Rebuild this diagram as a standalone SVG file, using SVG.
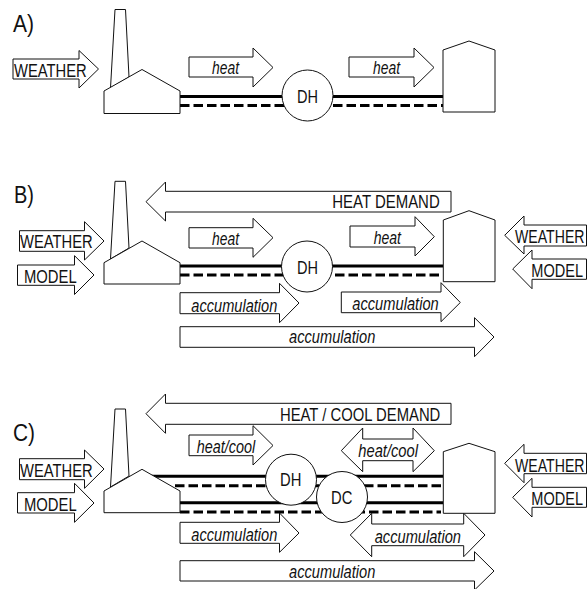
<svg xmlns="http://www.w3.org/2000/svg" width="587" height="589" viewBox="0 0 587 589">
<style>
.s{fill:#fff;stroke:#111;stroke-width:1;stroke-linejoin:miter}
.p{fill:none;stroke:#000;stroke-width:3}
.d{stroke-dasharray:9.5 4}
text{font-family:"Liberation Sans",Arial,sans-serif;font-size:18px;fill:#111}
.i{font-style:italic}
.l{font-size:23px}
</style>
<rect width="587" height="589" fill="#fff"/>
<g id="connectors">
<path class="p" d="M180 96.5H283M332 96.5H443"/>
<path class="p d" d="M180 105.5H284M333 105.5H443"/>
<path class="p" d="M180 266H283M332 266H443"/>
<path class="p d" d="M180 275H284M335 275H441"/>
<path class="p" d="M150 476.3H443"/>
<path class="p d" d="M175 485.7H443"/>
<path class="p" d="M180 502.7H443"/>
<path class="p d" d="M180 512H441"/>
</g>
<g id="panel-a">
<text class="l" x="13" y="31.7" textLength="21" lengthAdjust="spacingAndGlyphs">A)</text>
<g id="a-plant"><path class="s" d="M110.5 88L115 9.5H125.5L129 77Z"/><path class="s" d="M104 91L142 69.5L180 91V113.5H104Z"/></g>
<g id="a-tank"><path class="s" d="M443 50L469 41L495 50V112H443Z"/></g>
<g id="a-dh"><circle class="s" cx="307.5" cy="95.5" r="25.5"/><text x="297" y="102.5" textLength="21" lengthAdjust="spacingAndGlyphs">DH</text></g>
<g id="a-weather"><path class="s" d="M13 59H79V50.5L98.5 69L79 88V79H13Z"/><text x="14" y="76.7" textLength="72.7" lengthAdjust="spacingAndGlyphs">WEATHER</text></g>
<g id="a-heat1"><path class="s" d="M189 57H253V48L273 67.5L253 87V77H189Z"/><text class="i" x="212" y="74" textLength="27" lengthAdjust="spacingAndGlyphs">heat</text></g>
<g id="a-heat2"><path class="s" d="M349 57H414V48L434 67.5L414 87V77H349Z"/><text class="i" x="373" y="74" textLength="27" lengthAdjust="spacingAndGlyphs">heat</text></g>
</g>
<g id="panel-b">
<text class="l" x="14" y="202.7" textLength="20" lengthAdjust="spacingAndGlyphs">B)</text>
<g id="b-plant"><path class="s" d="M110.5 259L115 181.3H125.5L129 248Z"/><path class="s" d="M104 262.7L142 241L180 262.7V284H104Z"/></g>
<g id="b-tank"><path class="s" d="M443.3 220L469 210.7L495 220V281.7H443.3Z"/></g>
<g id="b-dh"><circle class="s" cx="307" cy="266.5" r="25.5"/><text x="297" y="274" textLength="21" lengthAdjust="spacingAndGlyphs">DH</text></g>
<g id="b-demand"><path class="s" d="M451 191.3H165.5V182L146 201.7L165.5 221V212H451Z"/><text x="332.3" y="207.7" textLength="107.4" lengthAdjust="spacingAndGlyphs">HEAT DEMAND</text></g>
<g id="b-weather"><path class="s" d="M19.5 230.7H84.5V221.7L104 241L84.5 260V251.3H19.5Z"/><text x="20" y="248.3" textLength="72.7" lengthAdjust="spacingAndGlyphs">WEATHER</text></g>
<g id="b-model"><path class="s" d="M17.5 265H74.5V255.7L94 275L74.5 294.5V285.3H17.5Z"/><text x="24" y="282.7" textLength="52.7" lengthAdjust="spacingAndGlyphs">MODEL</text></g>
<g id="b-heat1"><path class="s" d="M189 227.7H253V218.3L273 237.7L253 257.3V248H189Z"/><text class="i" x="212" y="245" textLength="27" lengthAdjust="spacingAndGlyphs">heat</text></g>
<g id="b-heat2"><path class="s" d="M350 226H415V216.7L434.3 236.7L415 256V247H350Z"/><text class="i" x="373.7" y="244" textLength="27.3" lengthAdjust="spacingAndGlyphs">heat</text></g>
<g id="b-weather-r"><path class="s" d="M586.5 225H524V216L504.7 235.3L524 254V246H586.5Z"/><text transform="translate(515 242.7) scale(.785 1)">WEATHER</text></g>
<g id="b-model-r"><path class="s" d="M586.5 259H532V250L512.7 269L532 288.7V279.3H586.5Z"/><text transform="translate(531.3 276.7) scale(.808 1)">MODEL</text></g>
<g id="b-acc1"><path class="s" d="M180 292.7H279.5V283.3L299 303L279.5 322.7V313.7H180Z"/><text class="i" x="191.3" y="311.7" textLength="86" lengthAdjust="spacingAndGlyphs">accumulation</text></g>
<g id="b-acc2"><path class="s" d="M341.3 292H441V282.7L460.3 302.5L441 321.7V312.7H341.3Z"/><text class="i" x="352.3" y="310" textLength="86.4" lengthAdjust="spacingAndGlyphs">accumulation</text></g>
<g id="b-acc3"><path class="s" d="M180 326.7H474.5V317.7L494 337L474.5 356.7V347.3H180Z"/><text class="i" x="289" y="343.3" textLength="86.3" lengthAdjust="spacingAndGlyphs">accumulation</text></g>
</g>
<g id="panel-c">
<text class="l" x="13" y="440.7" textLength="22" lengthAdjust="spacingAndGlyphs">C)</text>
<g id="c-plant"><path class="s" d="M110.5 487L115 409H125.5L129 476Z"/><path class="s" d="M104 491L142 469.3L180 491V512.7H104Z"/></g>
<g id="c-tank"><path class="s" d="M443.3 451.7L469 443.3L495 451.7V513.3H443.3Z"/></g>
<g id="c-dh"><circle class="s" cx="291" cy="479.7" r="25.5"/><text x="280" y="486" textLength="21.3" lengthAdjust="spacingAndGlyphs">DH</text></g>
<g id="c-dc"><circle class="s" cx="342" cy="497" r="25.5"/><text x="331" y="504" textLength="21.3" lengthAdjust="spacingAndGlyphs">DC</text></g>
<g id="c-demand"><path class="s" d="M451 403.3H165.5V394L146 413.7L165.5 433.3V424.3H451Z"/><text x="280" y="420.7" textLength="160.3" lengthAdjust="spacingAndGlyphs">HEAT / COOL DEMAND</text></g>
<g id="c-weather"><path class="s" d="M19.5 458.7H84.5V450L104 469L84.5 488.3V479.7H19.5Z"/><text x="20" y="476.7" textLength="72.7" lengthAdjust="spacingAndGlyphs">WEATHER</text></g>
<g id="c-model"><path class="s" d="M17.5 492.7H74.5V483.3L94 503L74.5 522.3V513H17.5Z"/><text x="24" y="510.7" textLength="52.7" lengthAdjust="spacingAndGlyphs">MODEL</text></g>
<g id="c-heat1"><path class="s" d="M189 435H253V425.7L273 445.5L253 465V455.7H189Z"/><text class="i" x="196.7" y="453.3" textLength="58.6" lengthAdjust="spacingAndGlyphs">heat/cool</text></g>
<g id="c-heat2"><path class="s" d="M341.3 450.7L362.7 428V439H413V428L434.3 450.7L413 471.7V460.7H362.7V471.7Z"/><text class="i" x="358.3" y="456.7" textLength="59.7" lengthAdjust="spacingAndGlyphs">heat/cool</text></g>
<g id="c-weather-r"><path class="s" d="M586.5 453.3H524V444.3L504.7 463.3L524 482.7V473.7H586.5Z"/><text transform="translate(515 471.7) scale(.785 1)">WEATHER</text></g>
<g id="c-model-r"><path class="s" d="M586.5 487.3H532V478.3L512.7 497.3L532 517V507.3H586.5Z"/><text transform="translate(531.3 505) scale(.808 1)">MODEL</text></g>
<g id="c-acc1"><path class="s" d="M180 522.3H279.5V513L299 533L279.5 552.3V543.3H180Z"/><text class="i" x="191.3" y="540.7" textLength="86" lengthAdjust="spacingAndGlyphs">accumulation</text></g>
<g id="c-acc2"><path class="s" d="M350.3 535L371.7 513.3V524H463.7V513.3L485 535L463.7 556.7V545.7H371.7V556.7Z"/><text class="i" x="374.7" y="542.7" textLength="86.3" lengthAdjust="spacingAndGlyphs">accumulation</text></g>
<g id="c-acc3"><path class="s" d="M180 560.7H474.5V551.7L494 571L474.5 590V581H180Z"/><text class="i" x="289" y="578.3" textLength="86.3" lengthAdjust="spacingAndGlyphs">accumulation</text></g>
</g>
</svg>
